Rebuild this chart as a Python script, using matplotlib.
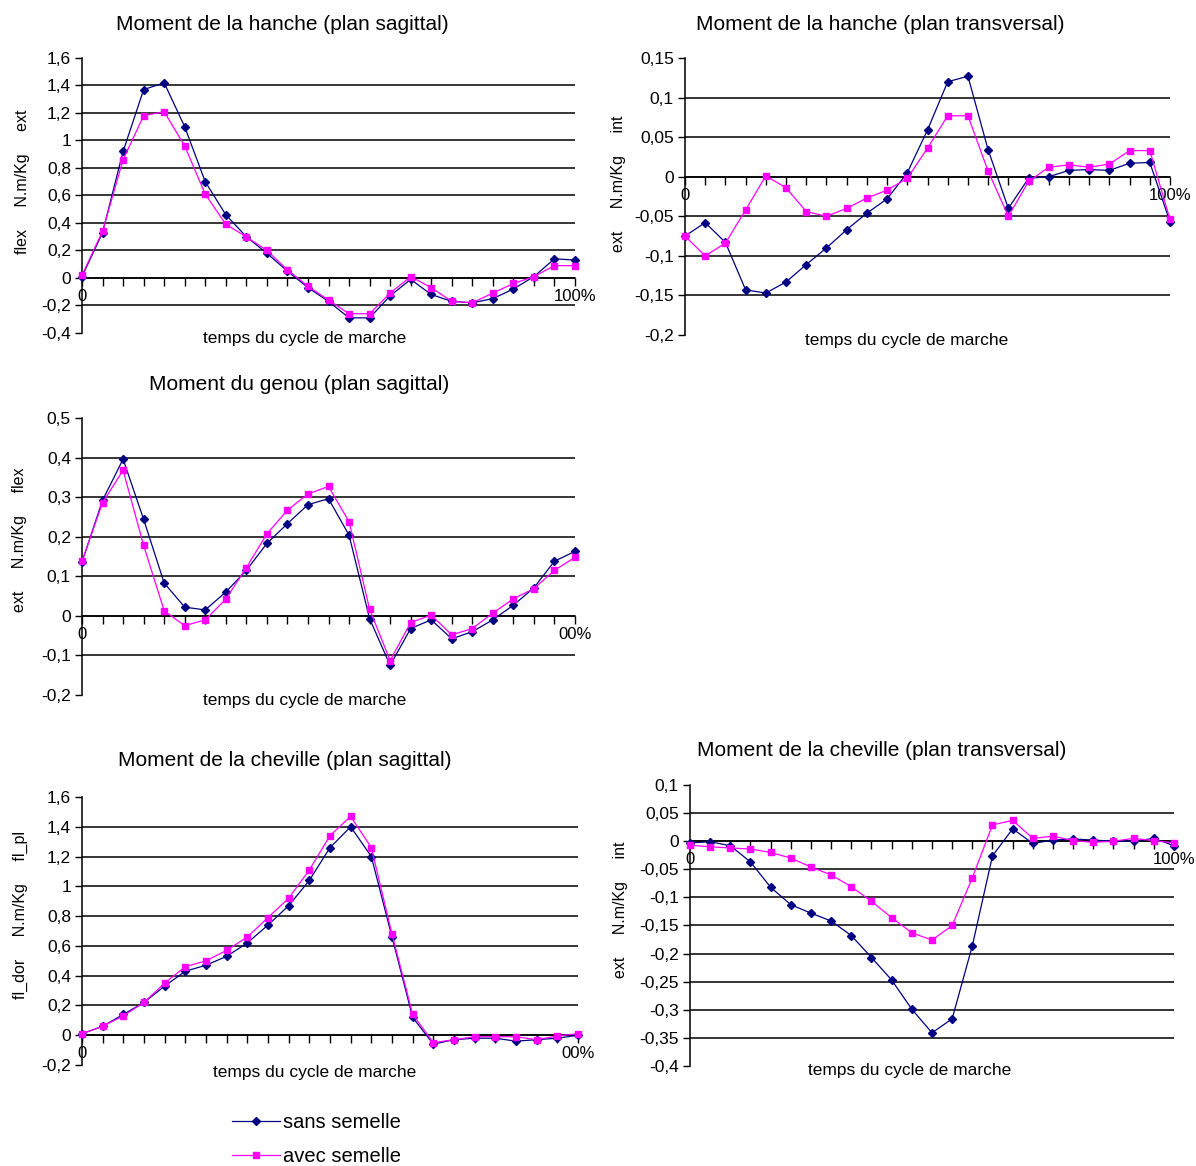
import matplotlib
matplotlib.use("Agg")
import matplotlib.pyplot as plt

plt.rcParams['font.family'] = ['Liberation Sans', 'DejaVu Sans']

# ---------------- data ----------------
x_pos = list(range(25))

hip_sag_sans = [0.01, 0.33, 0.92, 1.37, 1.42, 1.10, 0.70, 0.46, 0.30, 0.18, 0.05, -0.07, -0.17,
                -0.29, -0.29, -0.13, -0.01, -0.12, -0.17, -0.18, -0.15, -0.08, 0.01, 0.14, 0.13]
hip_sag_avec = [0.02, 0.34, 0.86, 1.18, 1.21, 0.96, 0.61, 0.39, 0.30, 0.20, 0.06, -0.06, -0.16,
                -0.26, -0.26, -0.11, 0.01, -0.07, -0.17, -0.18, -0.11, -0.04, 0.01, 0.09, 0.09]

hip_tr_sans = [-0.075, -0.058, -0.083, -0.143, -0.147, -0.133, -0.111, -0.090, -0.067, -0.046,
               -0.028, 0.005, 0.059, 0.120, 0.127, 0.034, -0.040, -0.002, 0.000, 0.008, 0.009,
               0.008, 0.017, 0.018, -0.057]
hip_tr_avec = [-0.075, -0.100, -0.084, -0.042, 0.001, -0.014, -0.044, -0.050, -0.040, -0.027,
               -0.017, -0.002, 0.036, 0.077, 0.077, 0.007, -0.050, -0.006, 0.012, 0.015, 0.012,
               0.016, 0.033, 0.033, -0.054]

knee_sag_sans = [0.136, 0.292, 0.396, 0.244, 0.083, 0.022, 0.015, 0.060, 0.115, 0.183, 0.233,
                 0.281, 0.296, 0.204, -0.007, -0.125, -0.032, -0.010, -0.058, -0.040, -0.010,
                 0.027, 0.071, 0.138, 0.163]
knee_sag_avec = [0.138, 0.286, 0.368, 0.178, 0.013, -0.025, -0.010, 0.042, 0.122, 0.207, 0.267,
                 0.308, 0.327, 0.238, 0.017, -0.113, -0.017, 0.002, -0.048, -0.032, 0.007,
                 0.043, 0.069, 0.115, 0.148]

ankle_sag_sans = [0.01, 0.06, 0.14, 0.22, 0.33, 0.43, 0.47, 0.53, 0.62, 0.74, 0.87, 1.04, 1.26,
                  1.40, 1.20, 0.66, 0.12, -0.06, -0.03, -0.02, -0.02, -0.04, -0.03, -0.02, 0.00]
ankle_sag_avec = [0.01, 0.06, 0.13, 0.22, 0.35, 0.46, 0.50, 0.57, 0.66, 0.79, 0.92, 1.11, 1.34,
                  1.47, 1.26, 0.68, 0.14, -0.05, -0.03, -0.01, -0.01, -0.01, -0.03, -0.005, 0.01]

ankle_tr_sans = [-0.003, -0.001, -0.008, -0.037, -0.082, -0.113, -0.128, -0.142, -0.168, -0.207,
                 -0.247, -0.299, -0.341, -0.316, -0.186, -0.026, 0.022, -0.004, 0.002, 0.004,
                 0.002, 0.000, 0.000, 0.005, -0.008]
ankle_tr_avec = [-0.007, -0.010, -0.012, -0.014, -0.020, -0.030, -0.046, -0.060, -0.081, -0.107,
                 -0.136, -0.163, -0.176, -0.150, -0.065, 0.029, 0.037, 0.005, 0.009, 0.001,
                 -0.002, 0.000, 0.005, 0.001, -0.003]

series_labels = ["sans semelle", "avec semelle"]

titles = ["Moment de la hanche (plan sagittal)",
          "Moment de la hanche (plan transversal)",
          "Moment du genou (plan sagittal)",
          "Moment de la cheville (plan sagittal)",
          "Moment de la cheville (plan transversal)"]
ylabels = ["flex     N.m/Kg     ext",
           "ext     N.m/Kg     int",
           "ext     N.m/Kg     flex",
           "fl_dor     N.m/Kg     fl_pl",
           "ext     N.m/Kg     int"]
xlabel_text = "temps du cycle de marche"
end_labels = ["100%", "100%", "00%", "00%", "100%"]

yticks_list = [
    [-0.4, -0.2, 0, 0.2, 0.4, 0.6, 0.8, 1.0, 1.2, 1.4, 1.6],
    [-0.2, -0.15, -0.1, -0.05, 0, 0.05, 0.1, 0.15],
    [-0.2, -0.1, 0, 0.1, 0.2, 0.3, 0.4, 0.5],
    [-0.2, 0, 0.2, 0.4, 0.6, 0.8, 1.0, 1.2, 1.4, 1.6],
    [-0.4, -0.35, -0.3, -0.25, -0.2, -0.15, -0.1, -0.05, 0, 0.05, 0.1],
]

data_sets = [(hip_sag_sans, hip_sag_avec), (hip_tr_sans, hip_tr_avec),
             (knee_sag_sans, knee_sag_avec), (ankle_sag_sans, ankle_sag_avec),
             (ankle_tr_sans, ankle_tr_avec)]

# ---------------- layout (pixels) ----------------
W, H = 1196, 1166
boxes = [(82, 575, 58, 333), (685, 1170, 58, 335), (82, 575, 418, 695),
         (82, 578, 797, 1065), (690, 1174, 785, 1066)]
title_pos = [(282, 24), (880, 25), (299, 384), (285, 760), (882, 751)]
xlabel_pos = [(305, 339), (907, 341), (305, 701), (315, 1073), (910, 1071)]
ylabel_pos = [(22, 182), (618, 184), (20, 540), (20, 915), (620, 910)]

BLUE = "#000080"
PINK = "#FF00FF"

fig = plt.figure(figsize=(W / 100, H / 100), dpi=100)
fig.patch.set_facecolor("white")


def fmt(v):
    return ("%g" % v).replace(".", ",")


handles = None
for i in range(5):
    l, r, t, b = boxes[i]
    ax = fig.add_axes([l / W, 1 - b / H, (r - l) / W, (b - t) / H])
    ticks = yticks_list[i]
    ax.set_xlim(0, 24)
    ax.set_ylim(ticks[0], ticks[-1])
    for yv in ticks[1:-1]:
        ax.axhline(yv, color="black", lw=1.1, zorder=1)
    sans, avec = data_sets[i]
    h1, = ax.plot(x_pos, sans, color=BLUE, lw=0.9, marker="D", markersize=4,
                  markerfacecolor=BLUE, markeredgecolor=BLUE, clip_on=False, zorder=3)
    h2, = ax.plot(x_pos, avec, color=PINK, lw=0.9, marker="s", markersize=4.5,
                  markerfacecolor=PINK, markeredgecolor=PINK, clip_on=False, zorder=3)
    handles = [h1, h2]

    for sp in ["top", "right"]:
        ax.spines[sp].set_visible(False)
    ax.spines["left"].set_linewidth(1.1)
    ax.spines["bottom"].set_position(("data", 0))
    ax.spines["bottom"].set_linewidth(1.1)
    ax.set_yticks(ticks)
    ax.set_yticklabels([fmt(v) for v in ticks])
    ax.set_xticks(x_pos)
    xl = [""] * 25
    xl[0] = "0"
    xl[-1] = end_labels[i]
    ax.set_xticklabels(xl)
    ax.tick_params(axis="y", direction="out", length=5, width=1, labelsize=12.5, pad=3)
    ax.tick_params(axis="x", direction="out", length=6, width=1, labelsize=12, pad=2)
    ax.set_facecolor("none")

    fig.text(title_pos[i][0] / W, 1 - title_pos[i][1] / H, titles[i], ha="center",
             va="center", fontsize=15)
    fig.text(xlabel_pos[i][0] / W, 1 - xlabel_pos[i][1] / H, xlabel_text, ha="center",
             va="center", fontsize=12.5)
    fig.text(ylabel_pos[i][0] / W, 1 - ylabel_pos[i][1] / H, ylabels[i], ha="center",
             va="center", rotation=90, fontsize=11.5)

fig.legend(handles, series_labels, loc="upper left",
           bbox_to_anchor=(222 / W, 1 - 1103 / H), frameon=False, fontsize=14.5,
           handlelength=2.4, handletextpad=0.15, labelspacing=0.72, borderpad=0)

fig.savefig("out.png", dpi=100, facecolor="white")
